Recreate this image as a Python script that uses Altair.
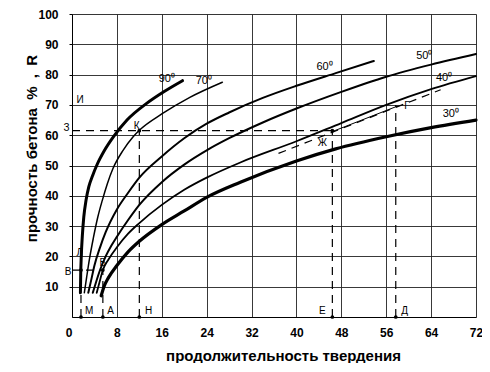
import altair as alt
import pandas as pd

# ---- curves: hardening time (h) vs concrete strength (%) ----
curve_labels = ["90", "70", "60", "50", "40", "30"]
t90 = [1.5, 1.55, 1.65, 1.85, 2.1, 2.5, 3.0, 3.7, 4.4, 5.8, 7.4, 9.8, 13.3, 16.5, 19.7]
r90 = [8, 14, 20, 27, 33, 38.5, 43, 46.8, 50, 55, 59.5, 65, 70.5, 74.5, 78]
t70 = [2.2, 2.6, 3.1, 3.8, 4.6, 5.4, 6.3, 7.3, 9.1, 10.9, 12.1, 16, 21, 26.8]
r70 = [8, 13, 19, 26, 33, 38.5, 44, 49, 55, 59.5, 61.8, 67, 72.5, 77.5]
t60 = [2.9, 3.4, 4, 5, 6, 8, 10, 12, 16, 20, 24, 28, 34, 40, 47, 53.8]
r60 = [8, 12, 17, 23, 28, 35.5, 41, 46, 53, 59, 63.8, 67.5, 72.3, 76.3, 80.5, 84.5]
t50 = [3.7, 4.2, 5, 6, 7, 8, 10, 12, 16, 20, 24, 28, 34, 40, 48, 56, 64, 72]
r50 = [8, 11, 15.5, 20, 23.5, 26.5, 32, 37, 44.5, 50.3, 55, 59, 64.2, 68.8, 74.3, 79.3, 83.3, 86.8]
t40 = [4.4, 4.9, 5.5, 6.5, 8, 10, 12, 16, 20, 24, 30, 40, 48, 56, 64, 72]
r40 = [8, 11.5, 15.5, 19, 23, 27.5, 31, 37, 42, 46, 51, 58, 64, 70, 75.2, 79.5]
t30 = [5.2, 5.7, 6.5, 8, 10, 12, 16, 20, 24, 30, 40, 47, 56, 64, 72]
r30 = [7, 10, 13, 17, 21.5, 25, 30.5, 35, 39.5, 44.5, 51.5, 55.5, 59.5, 62.5, 65]
curve_widths = [3.0, 1.5, 2.0, 2.0, 1.8, 3.2]

# ---- curve temperature labels ----
deg_text = ["90⁰", "70⁰", "60⁰", "50⁰", "40⁰", "30⁰"]
deg_t = [16.9, 23.5, 45.0, 62.8, 66.3, 67.5]
deg_r = [78.5, 78.0, 82.5, 86.0, 79.0, 67.0]

# ---- construction (dashed) segments ----
dash_t1 = [0, 12, 46.4, 57.7, 0, 1.6, 5.5, 36.8]
dash_r1 = [61.5, 0, 0, 0, 15.5, 0, 0, 54]
dash_t2 = [46.4, 12, 46.4, 57.7, 5.5, 1.6, 5.5, 65.7]
dash_r2 = [61.5, 61.5, 61.5, 70, 15.5, 15.5, 15.5, 75]
solid_t1 = [46.4]
solid_r1 = [61.2]
solid_t2 = [58.0]
solid_r2 = [69.6]

# ---- point markers ----
pt_t = [1.6, 5.5, 12, 46.4, 57.7, 1.6, 5.5, 12, 46.4]
pt_r = [0, 0, 0, 0, 0, 15.5, 15.5, 61.5, 61.5]

# ---- letter labels ----
let_text = ["И", "З", "К", "Л", "В", "Б", "М", "А", "Н", "Е", "Д", "Ж", "Г"]
let_t = [0.8, -1.5, 11.0, 0.8, -1.3, 4.9, 2.3, 6.3, 13.0, 44.0, 58.7, 43.8, 59.2]
let_r = [71.5, 62.5, 63.0, 21.0, 15.0, 17.8, 2.0, 2.0, 2.0, 2.0, 2.0, 57.5, 69.5]

FONT = "Liberation Sans"
NB = "\u00a0"

rows = []
for name, ts, rs, w in zip(curve_labels,
                           [t90, t70, t60, t50, t40, t30],
                           [r90, r70, r60, r50, r40, r30],
                           curve_widths):
    for i, (t, r) in enumerate(zip(ts, rs)):
        rows.append({"curve": name, "t": t, "r": r, "w": w, "o": i})
curves = pd.DataFrame(rows)

xscale = alt.Scale(domain=[0, 72], nice=False, zero=False)
yscale = alt.Scale(domain=[0, 100], nice=False, zero=False)

x_axis = alt.Axis(
    values=list(range(0, 73, 8)), grid=True, gridColor="#222", gridWidth=0.9,
    title="продолжительность твердения", titleFont=FONT, titleFontSize=15,
    titleFontWeight="bold", titleColor="black", titleX=211, titleY=38,
    titleBaseline="middle", labelFont=FONT, labelFontSize=12,
    labelFontWeight="bold", labelColor="black", tickSize=0, labelPadding=10,
    labelOverlap=False, domainColor="black",
    labelAlign={"expr": "datum.value == 0 ? 'right' : 'center'"},
)
y_axis = alt.Axis(
    values=list(range(10, 101, 10)), grid=True, gridColor="#222", gridWidth=0.9,
    title=f"прочность бетона{NB}{NB}%{NB}{NB},{NB}{NB}R", titleFont=FONT,
    titleFontSize=15, titleFontWeight="bold", titleColor="black",
    titleX=-41, titleY=134, titleBaseline="middle", titleAngle=-90,
    labelFont=FONT, labelFontSize=12, labelFontWeight="bold",
    labelColor="black", tickSize=3, tickColor="black", labelPadding=11,
    labelOverlap=False, domainColor="black",
)


def X(field):
    return alt.X(field, scale=xscale, axis=x_axis)


def Y(field):
    return alt.Y(field, scale=yscale, axis=y_axis)


base_lines = alt.Chart(curves).mark_line(
    color="black", strokeCap="round", interpolate="monotone").encode(
    x=X("t:Q"), y=Y("r:Q"),
    detail="curve:N",
    order="o:Q",
    strokeWidth=alt.StrokeWidth("w:Q", scale=None),
)

dash_df = pd.DataFrame({"t1": dash_t1, "r1": dash_r1, "t2": dash_t2, "r2": dash_r2})
dashes = alt.Chart(dash_df).mark_rule(color="black", strokeWidth=1.2,
                                      strokeDash=[8, 6]).encode(
    x=X("t1:Q"), y=Y("r1:Q"), x2="t2:Q", y2="r2:Q",
)
solid_df = pd.DataFrame({"t1": solid_t1, "r1": solid_r1, "t2": solid_t2, "r2": solid_r2})
solids = alt.Chart(solid_df).mark_rule(color="black", strokeWidth=1).encode(
    x=X("t1:Q"), y=Y("r1:Q"), x2="t2:Q", y2="r2:Q",
)

pts = alt.Chart(pd.DataFrame({"t": pt_t, "r": pt_r})).mark_circle(
    color="black", size=14, opacity=1).encode(x=X("t:Q"), y=Y("r:Q"))

deg = alt.Chart(pd.DataFrame({"t": deg_t, "r": deg_r, "s": deg_text})).mark_text(
    font=FONT, fontSize=11, color="black", align="center", baseline="middle").encode(
    x=X("t:Q"), y=Y("r:Q"), text="s:N")

letters = alt.Chart(pd.DataFrame({"t": let_t, "r": let_r, "s": let_text})).mark_text(
    font=FONT, fontSize=10, color="black", align="left", baseline="middle").encode(
    x=X("t:Q"), y=Y("r:Q"), text="s:N")

chart = alt.layer(base_lines, dashes, solids, pts, deg, letters).properties(
    width=404, height=303, autosize="none",
    padding={"left": 64, "top": 6, "right": 6, "bottom": 46},
).configure_view(stroke="black", strokeWidth=1).configure(background="white")

chart.save("out.html", embed_options={"renderer": "svg", "actions": False})
